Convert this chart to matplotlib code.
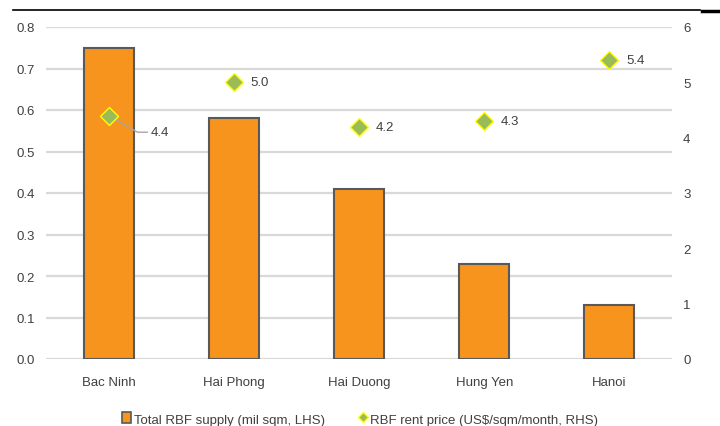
import matplotlib
matplotlib.use("Agg")
import matplotlib.pyplot as plt
from matplotlib import font_manager
from matplotlib.lines import Line2D
from matplotlib.patches import Patch

# Data
provinces = ["Bac Ninh", "Hai Phong", "Hai Duong", "Hung Yen", "Hanoi"]
supply = [0.75, 0.58, 0.41, 0.23, 0.13]      # mil sqm (LHS)
rent = [4.4, 5.0, 4.2, 4.3, 5.4]             # US$/sqm/month (RHS)
left_ticks = [0.0, 0.1, 0.2, 0.3, 0.4, 0.5, 0.6, 0.7, 0.8]
right_ticks = [0, 1, 2, 3, 4, 5, 6]

names = {f.name for f in font_manager.fontManager.ttflist}
fam = "Liberation Sans Narrow" if "Liberation Sans Narrow" in names else "Liberation Sans"
plt.rcParams["font.family"] = [fam, "DejaVu Sans"]
plt.rcParams["font.size"] = 10

txt = "#404040"
bar_col = "#F7941D"
edge_col = "#595959"
mk_face = "#9BBB59"
mk_edge = "#FFFF00"

fig = plt.figure(figsize=(7.2, 4.27), dpi=100)
ax = fig.add_axes([46 / 720, 1 - 360 / 427, 626 / 720, 332 / 427])
ax2 = ax.twinx()

x = list(range(len(provinces)))
ax.bar(x, supply, width=0.4, color=bar_col, edgecolor=edge_col, linewidth=1.5, zorder=3)
ax.set_xlim(-0.5, len(provinces) - 0.5)
ax.set_ylim(0, 0.8)
ax.set_yticks(left_ticks)
ax.set_yticklabels([f"{v:.1f}" for v in left_ticks])
ax.grid(axis="y", color="#d9d9d9", linewidth=1.6, zorder=0)
ax.set_axisbelow(True)
ax.set_xticks(x)
ax.set_xticklabels(provinces)

ax2.set_ylim(0, 6)
ax2.set_yticks(right_ticks)
ax2.set_yticklabels([str(v) for v in right_ticks])
ax2.plot(x, rent, linestyle="none", marker="D", markersize=9,
         markerfacecolor=mk_face, markeredgecolor=mk_edge, markeredgewidth=1.0, zorder=5)

for i, v in enumerate(rent):
    if i == 0:
        ax2.annotate(f"{v:.1f}", xy=(i, v), xytext=(30, -12), textcoords="offset points",
                     va="center", ha="left", color=txt, fontsize=9.5,
                     arrowprops=dict(arrowstyle="-", color="#a6a6a6", lw=1,
                                     shrinkA=0, shrinkB=2,
                                     connectionstyle="angle,angleA=0,angleB=-30,rad=0"))
    else:
        ax2.annotate(f"{v:.1f}", xy=(i, v), xytext=(12, 0), textcoords="offset points",
                     va="center", ha="left", color=txt, fontsize=9.5)

for a in (ax, ax2):
    for s in a.spines.values():
        s.set_visible(False)
    a.tick_params(length=0, colors=txt, labelsize=9.5)
ax.tick_params(axis="y", pad=8)
ax2.tick_params(axis="y", pad=8)
ax.tick_params(axis="x", pad=12)

handles = [
    Patch(facecolor=bar_col, edgecolor=edge_col, linewidth=1.2),
    Line2D([], [], linestyle="none", marker="D", markersize=5,
           markerfacecolor=mk_face, markeredgecolor=mk_edge),
]
labels = ["Total RBF supply (mil sqm, LHS)", "RBF rent price (US$/sqm/month, RHS)"]
fig.legend(handles, labels, loc="center", bbox_to_anchor=(0.5, 1 - 420 / 427), ncol=2,
           frameon=False, handlelength=0.7, handleheight=0.9, handletextpad=0.2,
           columnspacing=2.5, labelcolor=txt, fontsize=9.5)

# Rule across the top
fig.add_artist(Line2D([13 / 720, 700 / 720], [1 - 11 / 427] * 2, color="black", lw=1.2,
                      transform=fig.transFigure))
fig.add_artist(Line2D([702 / 720, 1.0], [1 - 12 / 427] * 2, color="black", lw=2.5,
                      transform=fig.transFigure))

fig.savefig("out.png", dpi=100)
